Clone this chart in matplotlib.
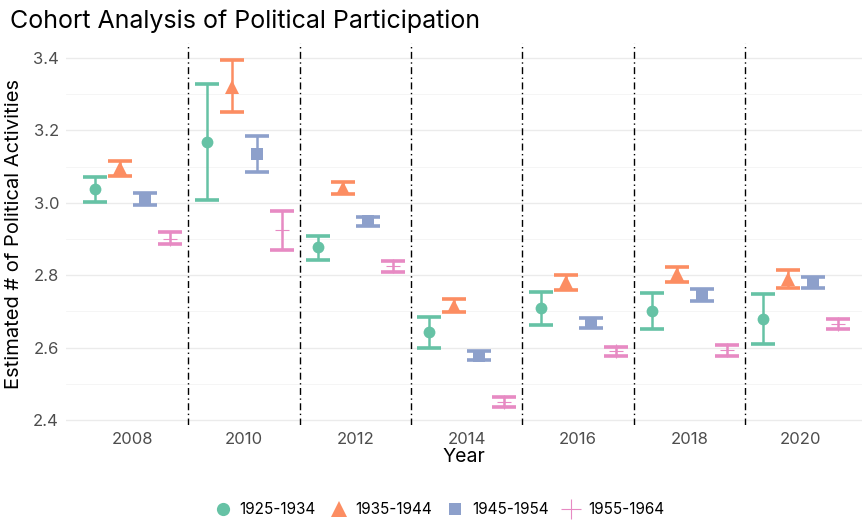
import numpy as np
import matplotlib
matplotlib.use('Agg')
from matplotlib import pyplot as plt
from matplotlib.lines import Line2D

years = ['2008', '2010', '2012', '2014', '2016', '2018', '2020']
cohorts = ['1925-1934', '1935-1944', '1945-1954', '1955-1964']

# estimates and CI bounds per cohort, one value per year
est_1925 = [3.038, 3.167, 2.877, 2.644, 2.709, 2.702, 2.679]
lo_1925 = [3.003, 3.008, 2.842, 2.600, 2.663, 2.651, 2.610]
hi_1925 = [3.072, 3.327, 2.909, 2.685, 2.753, 2.752, 2.748]

est_1935 = [3.097, 3.320, 3.040, 2.716, 2.780, 2.803, 2.790]
lo_1935 = [3.075, 3.251, 3.024, 2.698, 2.759, 2.782, 2.766]
hi_1935 = [3.116, 3.394, 3.057, 2.734, 2.801, 2.823, 2.814]

est_1945 = [3.010, 3.135, 2.949, 2.578, 2.668, 2.745, 2.779]
lo_1945 = [2.994, 3.084, 2.936, 2.566, 2.653, 2.729, 2.764]
hi_1945 = [3.028, 3.185, 2.962, 2.591, 2.683, 2.761, 2.794]

est_1955 = [2.900, 2.925, 2.825, 2.450, 2.590, 2.592, 2.664]
lo_1955 = [2.885, 2.870, 2.810, 2.435, 2.577, 2.577, 2.650]
hi_1955 = [2.918, 2.977, 2.839, 2.464, 2.603, 2.607, 2.678]

series = [
    (est_1925, lo_1925, hi_1925, '#66c2a5', 'o', 8.5),
    (est_1935, lo_1935, hi_1935, '#fc8d62', '^', 10),
    (est_1945, lo_1945, hi_1945, '#8da0cb', 's', 8),
    (est_1955, lo_1955, hi_1955, '#e78ac3', '+', 10),
]

plt.rcParams['font.family'] = ['Inter', 'DejaVu Sans']

fig = plt.figure(figsize=(8.64, 5.24), dpi=100)
ax = fig.add_axes([66/864, 1-424.7/524, (862-66)/864, (424.7-42.8)/524])

xs = np.arange(len(years))
offsets = [-0.3375, -0.1125, 0.1125, 0.3375]
for (est, lo, hi, col, mk, ms), off in zip(series, offsets):
    est = np.array(est)
    yerr = [est - np.array(lo), np.array(hi) - est]
    ax.errorbar(xs + off, est, yerr=yerr, fmt='none', ecolor=col,
                elinewidth=1.8, capsize=8.5, capthick=2.6, zorder=2)
    if mk == '+':
        ax.plot(xs + off, est, linestyle='none', marker=mk, color=col,
                markersize=ms, markeredgewidth=0.8, zorder=3)
    else:
        ax.plot(xs + off, est, linestyle='none', marker=mk, color=col,
                markersize=ms, markeredgewidth=0, zorder=3)

for b in xs[:-1] + 0.5:
    ax.axvline(b, color='black', linewidth=1.0, zorder=1,
               linestyle=(0, (5, 2.5, 1, 2.5)))

ax.set_xlim(-0.6, 6.55)
ax.set_ylim(2.387, 3.442)
ax.set_xticks(xs)
ax.set_xticklabels(years)
ax.set_yticks([2.4, 2.6, 2.8, 3.0, 3.2, 3.4])
ax.set_yticks([2.5, 2.7, 2.9, 3.1, 3.3], minor=True)
ax.set_yticklabels(['2.4', '2.6', '2.8', '3.0', '3.2', '3.4'])
ax.grid(axis='y', which='major', color='#ebebeb', linewidth=1.0, zorder=0)
ax.grid(axis='y', which='minor', color='#f4f4f4', linewidth=0.6, zorder=0)
ax.set_axisbelow(True)
for s in ax.spines.values():
    s.set_visible(False)
ax.tick_params(axis='both', which='both', length=0, labelsize=12, labelcolor='#4d4d4d')
ax.tick_params(axis='x', pad=5)
ax.tick_params(axis='y', pad=5)

ax.set_xlabel('Year', fontsize=14, labelpad=1)
ax.set_ylabel('Estimated # of Political Activities', fontsize=14.5, labelpad=7)
fig.text(10/864, 1-28/524, 'Cohort Analysis of Political Participation',
         fontsize=18, ha='left', va='baseline')

handles = []
for (est, lo, hi, col, mk, ms), lab in zip(series, cohorts):
    if mk == '+':
        h = Line2D([], [], linestyle='none', marker=mk, color=col,
                   markersize=14, markeredgewidth=0.8, label=lab)
    else:
        h = Line2D([], [], linestyle='none', marker=mk, color=col,
                   markersize=ms + 1, markeredgewidth=0, label=lab)
    handles.append(h)
fig.legend(handles=handles, loc='center', bbox_to_anchor=(0.508, 1-510/524),
           ncol=4, frameon=False, fontsize=11, handletextpad=0.5,
           columnspacing=0.9, handlelength=1.2)

fig.savefig('out.png', dpi=100)
